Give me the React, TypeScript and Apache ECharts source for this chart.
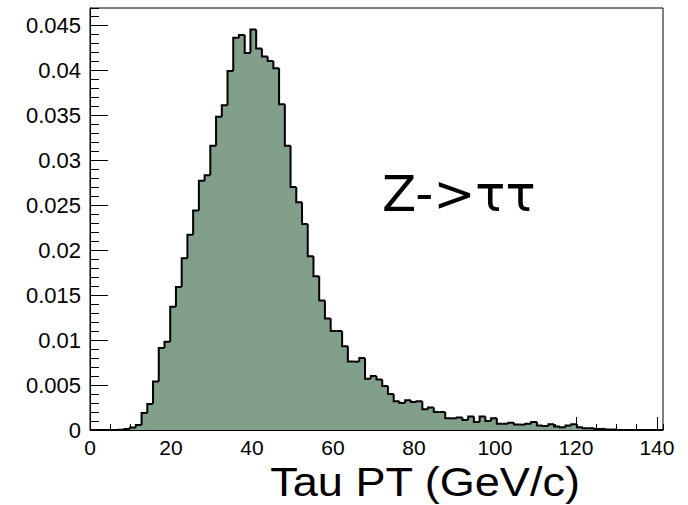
import React, { useEffect, useRef } from "react";
import * as echarts from "echarts";

// Histogram: 100 equal bins between X_MIN and X_MAX
const X_MIN = 0;
const X_MAX = 141.5;
const Y_MIN = 0;
const Y_MAX = 0.0469;
const X_MAJOR = 20;
const X_MINOR = 5;
const Y_MAJOR = 0.005;
const Y_MINOR = 0.001;

const binValues: number[] = [
  0, 0, 0, 0, 0, 0.00003, 0.0001, 0.00028, 0.00055, 0.0019,
  0.0029, 0.0054, 0.0091, 0.0098, 0.0137, 0.0159, 0.0191, 0.0217, 0.0244, 0.0277,
  0.0283, 0.0316, 0.0348, 0.0361, 0.0399, 0.0436, 0.0439, 0.0419, 0.0445, 0.0424,
  0.0415, 0.041, 0.0402, 0.0362, 0.0316, 0.027, 0.0253, 0.0229, 0.0193, 0.0171,
  0.0144, 0.0124, 0.011, 0.011, 0.0093, 0.0076, 0.0076, 0.008, 0.0057, 0.006,
  0.0056, 0.0049, 0.004, 0.0032, 0.003, 0.0033, 0.0031, 0.0032, 0.0023, 0.0025,
  0.002, 0.002, 0.0013, 0.0013, 0.0014, 0.0011, 0.0015, 0.0009, 0.0015, 0.001,
  0.0013, 0.0007, 0.0007, 0.0008, 0.0006, 0.0006, 0.0007, 0.0009, 0.0005, 0.00045,
  0.00065, 0.0004, 0.0003, 0.0005, 0.00065, 0.0003, 0.0002, 0.0002, 0.00012, 0.00012,
  0.00005, 0.00005, 0, 0, 0, 0, 0, 0, 0, 0,
];

const xAxisTitle = "Tau PT (GeV/c)";
const processLabel = "Z->ττ";

const FILL = "#819f8b";
const FONT = "Liberation Sans";

export default function App() {
  const ref = useRef<HTMLDivElement>(null);

  useEffect(() => {
    document.body.style.margin = "0";
    const chart = echarts.init(ref.current!, null, { renderer: "svg" });
    const binW = (X_MAX - X_MIN) / binValues.length;
    const data = binValues.map((v, i) => [
      X_MIN + i * binW,
      X_MIN + (i + 1) * binW,
      v,
      i > 0 ? binValues[i - 1] : 0,
      i === binValues.length - 1 ? 1 : 0,
    ]);

    const tickAxisCommon = {
      type: "value",
      splitLine: { show: false },
      axisLabel: { show: false },
      axisLine: { show: false },
    };

    chart.setOption({
      animation: false,
      backgroundColor: "#fff",
      grid: {
        left: 90,
        right: 25,
        top: 8,
        bottom: 75,
        show: true,
        borderColor: "#000",
        borderWidth: 1,
        backgroundColor: "#fff",
      },
      xAxis: [
        {
          type: "value",
          position: "bottom",
          min: X_MIN,
          max: X_MAX,
          interval: X_MAJOR,
          splitLine: { show: false },
          axisLine: { show: true, lineStyle: { color: "#000", width: 1 } },
          axisTick: { show: true, inside: true, length: 13, lineStyle: { color: "#000", width: 1 } },
          axisLabel: {
            show: true,
            margin: 7,
            color: "#000",
            fontSize: 21,
            fontFamily: FONT,
            showMaxLabel: false,
          },
        },
        {
          ...tickAxisCommon,
          position: "bottom",
          min: X_MIN,
          max: X_MAX,
          interval: X_MINOR,
          axisTick: { show: true, inside: true, length: 6, lineStyle: { color: "#000", width: 1 } },
        },
      ],
      yAxis: [
        {
          type: "value",
          position: "left",
          min: Y_MIN,
          max: Y_MAX,
          interval: Y_MAJOR,
          splitLine: { show: false },
          axisLine: { show: true, lineStyle: { color: "#000", width: 1 } },
          axisTick: { show: true, inside: true, length: 18, lineStyle: { color: "#000", width: 1 } },
          axisLabel: {
            show: true,
            margin: 9,
            color: "#000",
            fontSize: 22,
            fontFamily: FONT,
            showMaxLabel: false,
          },
        },
        {
          ...tickAxisCommon,
          position: "left",
          min: Y_MIN,
          max: Y_MAX,
          interval: Y_MINOR,
          axisTick: { show: true, inside: true, length: 9, lineStyle: { color: "#000", width: 1 } },
        },
      ],
      series: [
        {
          type: "custom",
          name: "fill",
          xAxisIndex: 0,
          yAxisIndex: 0,
          data,
          z: 2,
          renderItem: (params: any, api: any) => {
            const x0 = api.value(0);
            const x1 = api.value(1);
            const v = api.value(2);
            if (!(v > 0)) return null;
            const pTop = api.coord([x0, v]);
            const pBot = api.coord([x1, 0]);
            return {
              type: "rect",
              shape: {
                x: pTop[0] - 0.4,
                y: pTop[1],
                width: pBot[0] - pTop[0] + 0.8,
                height: pBot[1] - pTop[1],
              },
              style: { fill: FILL },
            };
          },
        },
        {
          type: "custom",
          name: "outline",
          xAxisIndex: 0,
          yAxisIndex: 0,
          data,
          z: 3,
          renderItem: (params: any, api: any) => {
            const x0 = api.value(0);
            const x1 = api.value(1);
            const v = api.value(2);
            const prev = api.value(3);
            const last = api.value(4);
            const pPrev = api.coord([x0, prev]);
            const pTop = api.coord([x0, v]);
            const pEnd = api.coord([x1, v]);
            const pts = [pPrev, pTop, pEnd];
            if (last) pts.push(api.coord([x1, 0]));
            return {
              type: "polyline",
              shape: { points: pts },
              style: { stroke: "#000", lineWidth: 2, fill: null },
            };
          },
        },
      ],
      graphic: [
        {
          type: "text",
          x: 580,
          y: 482,
          scaleX: 1.1,
          z: 10,
          style: {
            text: xAxisTitle,
            fontSize: 41,
            fontFamily: FONT,
            fill: "#000",
            align: "right",
            verticalAlign: "middle",
          },
        },
        {
          type: "text",
          x: 382,
          y: 194,
          z: 10,
          style: {
            text: processLabel,
            fontSize: 50,
            fontFamily: "DejaVu Sans",
            fill: "#000",
            align: "left",
            verticalAlign: "middle",
          },
        },
      ],
    });

    return () => chart.dispose();
  }, []);

  return (
    <div
      ref={ref}
      style={{ position: "fixed", left: 0, top: 0, width: 688, height: 505 }}
    />
  );
}
